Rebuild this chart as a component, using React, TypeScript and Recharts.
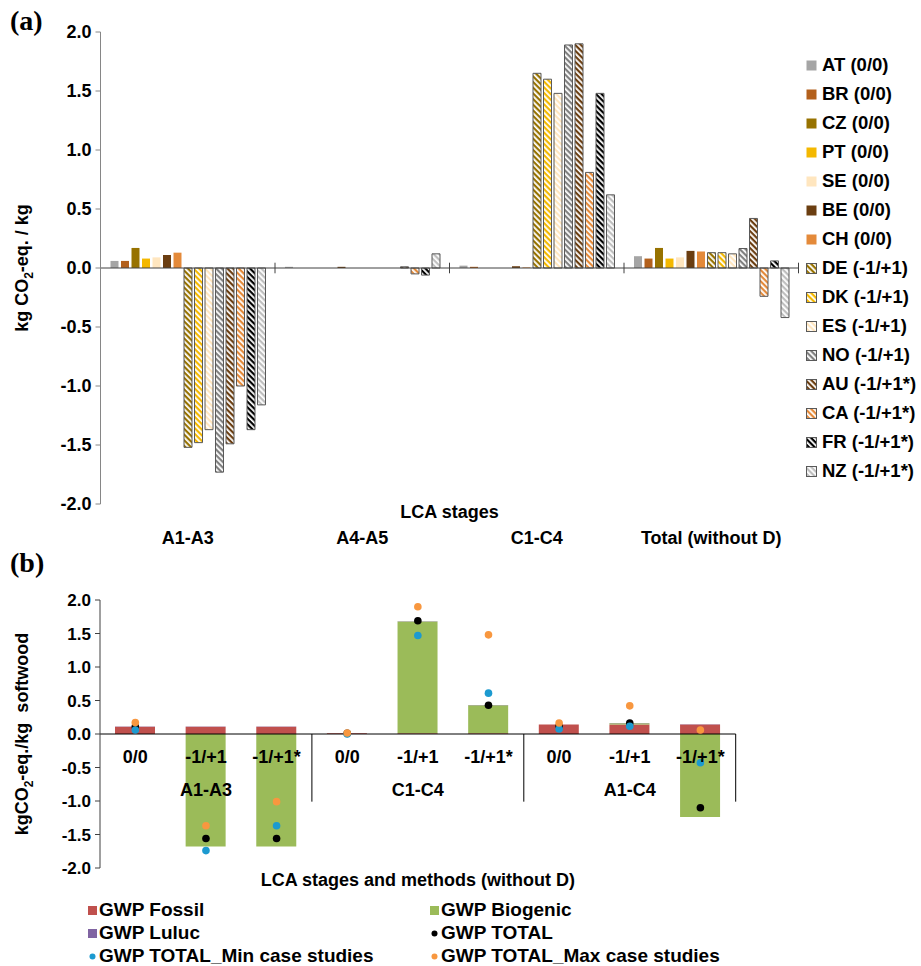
import React from 'react';
import { BarChart, ComposedChart, Bar, XAxis, YAxis, ReferenceLine, Scatter } from 'recharts';

const FONT = '"Liberation Sans", Arial, Helvetica, sans-serif';

// ---------- Panel (a) data ----------
const stages = ['A1-A3', 'A4-A5', 'C1-C4', 'Total (without D)'];
const AT = [0.06, 0.01, 0.02, 0.10];
const BR = [0.06, 0, 0.01, 0.08];
const CZ = [0.17, 0, 0, 0.17];
const PT = [0.08, 0, 0, 0.08];
const SE = [0.09, 0, 0, 0.09];
const BE = [0.11, 0.01, 0.015, 0.145];
const CH = [0.13, 0, 0.005, 0.14];
const DE = [-1.52, 0, 1.65, 0.13];
const DK = [-1.48, 0, 1.60, 0.13];
const ES = [-1.37, 0, 1.48, 0.12];
const NO = [-1.73, 0, 1.89, 0.165];
const AU = [-1.49, 0.01, 1.90, 0.42];
const CA = [-1.0, -0.05, 0.81, -0.24];
const FR = [-1.37, -0.06, 1.48, 0.06];
const NZ = [-1.16, 0.12, 0.62, -0.42];

const seriesCodes = ['AT', 'BR', 'CZ', 'PT', 'SE', 'BE', 'CH', 'DE', 'DK', 'ES', 'NO', 'AU', 'CA', 'FR', 'NZ'];
const seriesLabels = ['AT (0/0)', 'BR (0/0)', 'CZ (0/0)', 'PT (0/0)', 'SE (0/0)', 'BE (0/0)', 'CH (0/0)',
  'DE (-1/+1)', 'DK (-1/+1)', 'ES (-1/+1)', 'NO (-1/+1)', 'AU (-1/+1*)', 'CA (-1/+1*)', 'FR (-1/+1*)', 'NZ (-1/+1*)'];
const seriesValues = [AT, BR, CZ, PT, SE, BE, CH, DE, DK, ES, NO, AU, CA, FR, NZ];
const seriesColors = ['#A5A5A5', '#B3601C', '#977200', '#F4B800', '#FFE6BF', '#6B3E11', '#E48A3A',
  '#977200', '#F4B800', '#FFE6BF', '#808080', '#6B3E11', '#E48A3A', '#000000', '#BFBFBF'];
const seriesHatched = [false, false, false, false, false, false, false, true, true, true, true, true, true, true, true];
const topTicks = [-2, -1.5, -1, -0.5, 0, 0.5, 1, 1.5, 2];

const topData = stages.map((s, i) => {
  const row: any = { stage: s };
  seriesCodes.forEach((c, k) => { row[c] = seriesValues[k][i]; });
  return row;
});

// ---------- Panel (b) data ----------
const groups = ['A1-A3', 'C1-C4', 'A1-C4'];
const methods = ['0/0', '-1/+1', '-1/+1*'];
const gwpFossil = [0.11, 0.11, 0.11, 0.01, 0.01, 0.01, 0.14, 0.14, 0.14];
const gwpBiogenic = [0, -1.68, -1.68, 0, 1.67, 0.42, 0, 0.02, -1.24];
const gwpLuluc = [0.002, 0.002, 0.002, 0.002, 0.004, 0.004, 0.002, 0.004, 0.004];
const gwpTotal = [0.11, -1.56, -1.56, 0.01, 1.69, 0.43, 0.12, 0.165, -1.10];
const gwpMin = [0.06, -1.74, -1.37, 0.0, 1.47, 0.61, 0.075, 0.115, -0.43];
const gwpMax = [0.17, -1.37, -1.01, 0.015, 1.90, 1.48, 0.165, 0.42, 0.06];
const bottomTicks = [-2, -1.5, -1, -0.5, 0, 0.5, 1, 1.5, 2];

const bottomData = gwpFossil.map((_, i) => ({
  key: groups[Math.floor(i / 3)] + '|' + methods[i % 3],
  fossil: gwpFossil[i],
  biogenic: gwpBiogenic[i],
  luluc: gwpLuluc[i],
  total: gwpTotal[i],
  min: gwpMin[i],
  max: gwpMax[i],
}));
const bottomKeys = bottomData.map((d) => d.key);

const C_FOSSIL = '#C0504D';
const C_BIO = '#9BBB59';
const C_LULUC = '#8064A2';
const C_TOTAL = '#000000';
const C_MIN = '#1C9AD0';
const C_MAX = '#F8973F';

const txt = { fontFamily: FONT, fontWeight: 'bold' as const, fill: '#000' };

const TopTick = (props: any) => {
  const { x, y, payload } = props;
  return (
    <text x={x} y={y + 34} textAnchor="middle" dominantBaseline="central" fontSize={18} {...txt}>
      {payload.value}
    </text>
  );
};

const TopXTitle = (props: any) => {
  const vb = props.viewBox;
  return (
    <text x={vb.x + vb.width / 2} y={vb.y + 8} textAnchor="middle" dominantBaseline="central" fontSize={18} {...txt}>
      LCA stages
    </text>
  );
};

const TopYLabel = (props: any) => {
  const vb = props.viewBox;
  const cy = vb.y + vb.height / 2;
  return (
    <text transform={`translate(28,${cy}) rotate(-90)`} textAnchor="middle" fontSize={18} {...txt}>
      kg CO<tspan dy={5} fontSize={12}>2</tspan><tspan dy={-5}>-eq. / kg</tspan>
    </text>
  );
};

const BottomTick = (props: any) => {
  const { x, y, payload } = props;
  const [group, method] = String(payload.value).split('|');
  const mid = methods.indexOf(method) === 1;
  return (
    <g>
      <text x={x} y={y - 111} textAnchor="middle" dominantBaseline="central" fontSize={18} {...txt}>{method}</text>
      {mid && (
        <text x={x} y={y - 78} textAnchor="middle" dominantBaseline="central" fontSize={18} {...txt}>{group}</text>
      )}
    </g>
  );
};

const BottomXTitle = (props: any) => {
  const vb = props.viewBox;
  return (
    <text x={vb.x + vb.width / 2} y={vb.y + 12} textAnchor="middle" dominantBaseline="central" fontSize={18} {...txt}>
      LCA stages and methods (without D)
    </text>
  );
};

const BottomYLabel = (props: any) => {
  const vb = props.viewBox;
  const cy = vb.y + vb.height / 2;
  return (
    <text transform={`translate(28,${cy}) rotate(-90)`} textAnchor="middle" fontSize={18} style={{ whiteSpace: 'pre' }} {...txt}>
      kgCO<tspan dy={5} fontSize={12}>2</tspan><tspan dy={-5}>{'-eq./kg  softwood'}</tspan>
    </text>
  );
};

const dot = (color: string) => (p: any) =>
  p.cx == null || p.cy == null ? <g /> : <circle cx={p.cx} cy={p.cy} r={3.8} fill={color} />;

export default function App() {
  const legendTop = 65;
  const legendStep = 29.0;
  const topLast = stages[stages.length - 1];
  const botLast = bottomKeys[bottomKeys.length - 1];
  return (
    <div style={{ position: 'absolute', left: 0, top: 0, width: 921, height: 966, background: '#fff', fontFamily: FONT, overflow: 'hidden' }}>
      <svg width={0} height={0} style={{ position: 'absolute' }}>
        <defs>
          {seriesCodes.map((c, i) =>
            seriesHatched[i] ? (
              <pattern key={c} id={`hatch-${c}`} patternUnits="userSpaceOnUse" width={4} height={4} patternTransform="rotate(-45)">
                <rect width={4} height={4} fill={seriesColors[i]} />
                <rect width={1.8} height={4} fill="#ffffff" />
              </pattern>
            ) : null
          )}
        </defs>
      </svg>

      {/* Panel (a) */}
      <div style={{ position: 'absolute', left: 0, top: 0 }}>
        <BarChart width={921} height={560} data={topData} margin={{ top: 32, right: 122.5, left: 40.5, bottom: 40 }} barSize={8} barGap={2.5}>
          <YAxis width={60} domain={[-2, 2]} ticks={topTicks} interval={0} tickFormatter={(v: number) => v.toFixed(1)}
            tick={{ fontSize: 18, fontFamily: FONT, fontWeight: 'bold', fill: '#000' }}
            axisLine={{ stroke: '#868686' }} tickLine={{ stroke: '#868686' }} tickSize={5} tickMargin={4}
            label={{ content: TopYLabel }} />
          <ReferenceLine y={0} stroke="#404040" strokeWidth={1} />
          {stages.slice(1).map((s) => (
            <ReferenceLine key={s} position="start" segment={[{ x: s, y: 0.045 }, { x: s, y: -0.045 }]} stroke="#404040" strokeWidth={1} />
          ))}
          <ReferenceLine position="end" segment={[{ x: topLast, y: 0.045 }, { x: topLast, y: -0.045 }]} stroke="#404040" strokeWidth={1} />
          {seriesCodes.map((c, i) => (
            <Bar key={c} dataKey={c} isAnimationActive={false}
              fill={seriesHatched[i] ? `url(#hatch-${c})` : seriesColors[i]}
              stroke={seriesHatched[i] ? '#595959' : 'none'} strokeWidth={seriesHatched[i] ? 1 : 0} />
          ))}
          <XAxis dataKey="stage" height={16} axisLine={false} tickLine={false} tickSize={0} tickMargin={0} interval={0}
            tick={<TopTick />} label={{ content: TopXTitle }} />
        </BarChart>
      </div>

      {/* Panel labels */}
      <div style={{ position: 'absolute', left: 10, top: 4, fontFamily: '"Liberation Serif", "Times New Roman", serif', fontWeight: 'bold', fontSize: 28, lineHeight: '34px' }}>(a)</div>
      <div style={{ position: 'absolute', left: 10, top: 546, fontFamily: '"Liberation Serif", "Times New Roman", serif', fontWeight: 'bold', fontSize: 28, lineHeight: '34px' }}>(b)</div>

      {/* Panel (a) legend */}
      {seriesCodes.map((c, i) => (
        <div key={c} style={{ position: 'absolute', left: 806, top: legendTop + i * legendStep - 12, height: 24, display: 'flex', alignItems: 'center' }}>
          <svg width={11} height={11} style={{ marginRight: 5 }}>
            <rect x={0.5} y={0.5} width={10} height={10}
              fill={seriesHatched[i] ? `url(#hatch-${c})` : seriesColors[i]}
              stroke={seriesHatched[i] ? '#595959' : 'none'} strokeWidth={1} />
          </svg>
          <span style={{ fontWeight: 'bold', fontSize: 18.5, color: '#000', whiteSpace: 'nowrap' }}>{seriesLabels[i]}</span>
        </div>
      ))}

      {/* Panel (b) */}
      <div style={{ position: 'absolute', left: 0, top: 580 }}>
        <ComposedChart width={921} height={386} data={bottomData} stackOffset="sign" barSize={40}
          margin={{ top: 20, right: 185.3, left: 40, bottom: 82 }}>
          <YAxis width={60} domain={[-2, 2]} ticks={bottomTicks} interval={0} tickFormatter={(v: number) => v.toFixed(1)}
            tick={{ fontSize: 17, fontFamily: FONT, fontWeight: 'bold', fill: '#000' }}
            axisLine={{ stroke: '#404040' }} tickLine={{ stroke: '#404040' }} tickSize={5} tickMargin={4}
            label={{ content: BottomYLabel }} />
          <Bar dataKey="fossil" stackId="g" fill={C_FOSSIL} isAnimationActive={false} />
          <Bar dataKey="biogenic" stackId="g" fill={C_BIO} isAnimationActive={false} />
          <Bar dataKey="luluc" stackId="g" fill={C_LULUC} isAnimationActive={false} />
          <ReferenceLine y={0} stroke="#000" strokeWidth={1} />
          {groups.slice(1).map((g, gi) => {
            const k = bottomKeys[(gi + 1) * methods.length];
            return <ReferenceLine key={g} position="start" segment={[{ x: k, y: 0 }, { x: k, y: -1.01 }]} stroke="#000" strokeWidth={1} />;
          })}
          <ReferenceLine position="end" segment={[{ x: botLast, y: 0 }, { x: botLast, y: -1.01 }]} stroke="#000" strokeWidth={1} />
          <XAxis dataKey="key" height={16} axisLine={false} tickLine={false} tickSize={0} tickMargin={0} interval={0}
            tick={<BottomTick />} label={{ content: BottomXTitle }} />
          <Scatter dataKey="total" fill={C_TOTAL} shape={dot(C_TOTAL)} isAnimationActive={false} />
          <Scatter dataKey="min" fill={C_MIN} shape={dot(C_MIN)} isAnimationActive={false} />
          <Scatter dataKey="max" fill={C_MAX} shape={dot(C_MAX)} isAnimationActive={false} />
        </ComposedChart>
      </div>

      {/* Panel (b) legend */}
      {[
        { label: 'GWP Fossil', color: C_FOSSIL, kind: 'sq', left: 88, top: 910 },
        { label: 'GWP Biogenic', color: C_BIO, kind: 'sq', left: 430, top: 910 },
        { label: 'GWP Luluc', color: C_LULUC, kind: 'sq', left: 88, top: 933 },
        { label: 'GWP TOTAL', color: C_TOTAL, kind: 'dot', left: 430, top: 933 },
        { label: 'GWP TOTAL_Min case studies', color: C_MIN, kind: 'dot', left: 88, top: 956 },
        { label: 'GWP TOTAL_Max case studies', color: C_MAX, kind: 'dot', left: 430, top: 956 },
      ].map((it) => (
        <div key={it.label} style={{ position: 'absolute', left: it.left, top: it.top - 12, height: 24, display: 'flex', alignItems: 'center' }}>
          <svg width={9} height={9} style={{ marginRight: 2 }}>
            {it.kind === 'sq' ? <rect width={9} height={9} fill={it.color} /> : <circle cx={4.5} cy={4.5} r={3} fill={it.color} />}
          </svg>
          <span style={{ fontWeight: 'bold', fontSize: 19, color: '#000', whiteSpace: 'nowrap' }}>{it.label}</span>
        </div>
      ))}
    </div>
  );
}
